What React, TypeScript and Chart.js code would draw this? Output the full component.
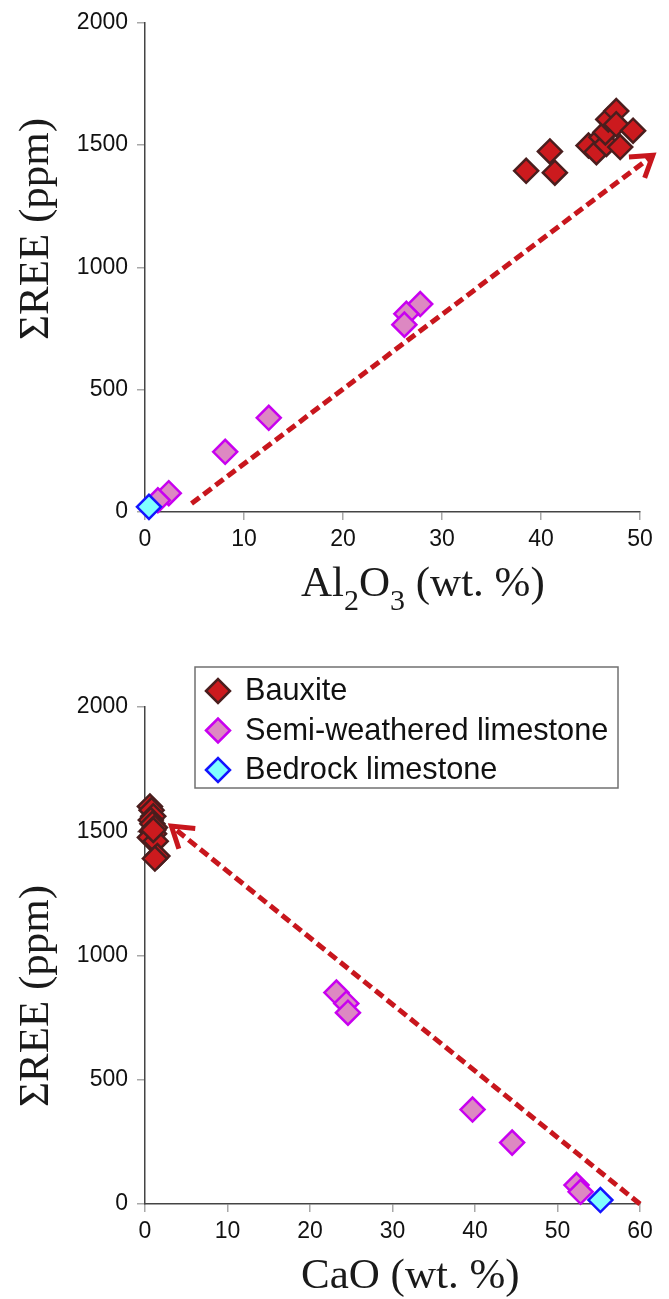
import React, { useEffect, useRef } from 'react';
import { Chart, registerables } from 'chart.js';

Chart.register(...registerables);

// ---------- data ----------
const seriesLabels = ['Bauxite', 'Semi-weathered limestone', 'Bedrock limestone'];

// Top panel: Al2O3 (wt.%) vs ΣREE (ppm)
const bauxiteAl2O3 = [38.5, 40.9, 41.4, 44.8, 45.6, 46.1, 46.6, 46.5, 46.8, 47.6, 47.6, 48.0, 49.3];
const bauxiteREEtop = [1395, 1474, 1387, 1498, 1471, 1532, 1505, 1552, 1605, 1639, 1585, 1492, 1559];
const semiAl2O3 = [27.8, 26.4, 26.2, 12.5, 8.1, 2.4, 1.3];
const semiREEtop = [850, 810, 766, 385, 246, 77, 48];
const bedrockAl2O3 = [0.4];
const bedrockREEtop = [21];
const arrowTopX = [4.7, 51.3];
const arrowTopY = [35, 1458];

// Bottom panel: CaO (wt.%) vs ΣREE (ppm)
const bauxiteCaO = [0.6, 0.8, 1.0, 0.7, 0.9, 1.2, 0.8, 1.1, 0.6, 1.3, 1.5, 1.2, 1.0];
const bauxiteREEbottom = [1600, 1585, 1560, 1545, 1530, 1515, 1500, 1490, 1475, 1460, 1400, 1390, 1505];
const semiCaO = [23.2, 24.4, 24.6, 39.7, 44.5, 52.3, 52.8];
const semiREEbottom = [851, 807, 770, 380, 247, 76, 49];
const bedrockCaO = [55.2];
const bedrockREEbottom = [16];
const arrowBottomX = [60, 3.2];
const arrowBottomY = [0, 1521];

// ticks
const xTicksTop = [0, 10, 20, 30, 40, 50];
const xTicksBottom = [0, 10, 20, 30, 40, 50, 60];
const yTicks = [0, 500, 1000, 1500, 2000];

// titles
const yTitle = 'ΣREE (ppm)';
const xTitleTop = [
  { t: 'Al', sub: false },
  { t: '2', sub: true },
  { t: 'O', sub: false },
  { t: '3', sub: true },
  { t: ' (wt. %)', sub: false },
];
const xTitleBottom = [{ t: 'CaO (wt. %)', sub: false }];

// ---------- styles ----------
const SANS = "'Liberation Sans', Arial, Helvetica, sans-serif";
const SERIF = "'Liberation Serif', 'Times New Roman', Times, serif";
const RED = '#c8161d';

const styles = [
  { bg: '#cc1a1e', border: '#4a1e1e' },
  { bg: '#dd88c2', border: '#c800f0' },
  { bg: '#80ffff', border: '#1414ff' },
];

const zip = (xs: number[], ys: number[]) => xs.map((x, i) => ({ x, y: ys[i] }));

function makeDatasets(bx: number[], by: number[], sx: number[], sy: number[], rx: number[], ry: number[], ax: number[], ay: number[]) {
  const pts = (i: number, data: any[]) => ({
    label: seriesLabels[i],
    data,
    backgroundColor: styles[i].bg,
    borderColor: styles[i].border,
    borderWidth: 2.5,
    pointStyle: 'rectRot',
    pointRadius: 12,
    pointHoverRadius: 12,
    clip: false,
    order: 3 - i,
  });
  return [
    pts(0, zip(bx, by)),
    pts(1, zip(sx, sy)),
    pts(2, zip(rx, ry)),
    {
      label: '',
      data: zip(ax, ay),
      showLine: true,
      borderColor: RED,
      backgroundColor: RED,
      borderWidth: 5,
      borderDash: [10, 5],
      pointRadius: 0,
      pointHoverRadius: 0,
      tension: 0,
      clip: false,
      order: 0,
      arrowHead: true,
    },
  ];
}

// ---------- plugins ----------
const arrowPlugin = {
  id: 'arrowHead',
  afterDatasetsDraw(chart: any) {
    const ctx = chart.ctx;
    chart.data.datasets.forEach((ds: any, i: number) => {
      if (!ds.arrowHead) return;
      const meta = chart.getDatasetMeta(i);
      const n = meta.data.length;
      if (n < 2) return;
      const tip = meta.data[n - 1];
      const prev = meta.data[n - 2];
      const ang = Math.atan2(prev.y - tip.y, prev.x - tip.x);
      const len = 24;
      const half = (33 * Math.PI) / 180;
      ctx.save();
      ctx.strokeStyle = ds.borderColor;
      ctx.lineWidth = 5;
      ctx.lineJoin = 'miter';
      ctx.lineCap = 'butt';
      ctx.beginPath();
      ctx.moveTo(tip.x + Math.cos(ang + half) * len, tip.y + Math.sin(ang + half) * len);
      ctx.lineTo(tip.x, tip.y);
      ctx.lineTo(tip.x + Math.cos(ang - half) * len, tip.y + Math.sin(ang - half) * len);
      ctx.stroke();
      ctx.restore();
    });
  },
};

const titlesPlugin = {
  id: 'axisTitles',
  afterDraw(chart: any, _args: any, opts: any) {
    const ctx = chart.ctx;
    const ca = chart.chartArea;
    ctx.save();
    ctx.fillStyle = '#1a1a1a';
    // y title (rotated)
    ctx.save();
    ctx.translate(opts.yBaselineX, opts.yStart);
    ctx.rotate(-Math.PI / 2);
    ctx.font = `43px ${SERIF}`;
    ctx.textAlign = 'left';
    ctx.textBaseline = 'alphabetic';
    ctx.fillText(opts.yText, 0, 0);
    ctx.restore();
    // x title (with subscripts)
    let x = opts.xLeft;
    const base = ca.bottom + 84;
    ctx.textAlign = 'left';
    ctx.textBaseline = 'alphabetic';
    for (const seg of opts.xSegments) {
      ctx.font = seg.sub ? `30px ${SERIF}` : `43px ${SERIF}`;
      ctx.fillText(seg.t, x, seg.sub ? base + 14 : base);
      x += ctx.measureText(seg.t).width;
    }
    ctx.restore();
  },
};

const legendPlugin = {
  id: 'boxLegend',
  afterDraw(chart: any, _args: any, opts: any) {
    if (!opts || !opts.show) return;
    const ctx = chart.ctx;
    const ca = chart.chartArea;
    const left = ca.left + 50;
    const top = ca.top - 40;
    const w = 423;
    const h = 121;
    ctx.save();
    ctx.fillStyle = '#ffffff';
    ctx.fillRect(left, top, w, h);
    ctx.strokeStyle = '#707070';
    ctx.lineWidth = 1.5;
    ctx.strokeRect(left, top, w, h);
    const items = chart.data.datasets.filter((d: any) => d.label);
    items.forEach((d: any, i: number) => {
      const cy = top + 24 + i * 39.5;
      const cx = left + 23;
      const r = 12;
      ctx.beginPath();
      ctx.moveTo(cx - r, cy);
      ctx.lineTo(cx, cy - r);
      ctx.lineTo(cx + r, cy);
      ctx.lineTo(cx, cy + r);
      ctx.closePath();
      ctx.fillStyle = d.backgroundColor;
      ctx.fill();
      ctx.lineWidth = d.borderWidth;
      ctx.strokeStyle = d.borderColor;
      ctx.stroke();
      ctx.fillStyle = '#111';
      ctx.font = `30.7px ${SANS}`;
      ctx.textAlign = 'left';
      ctx.textBaseline = 'middle';
      ctx.fillText(d.label, left + 50, cy + 1);
    });
    ctx.restore();
  },
};

function makeScales(xMax: number, xTicks: number[], xAxisHeight: number) {
  const tickFont = { family: SANS, size: 23 };
  const plain = (v: any) => String(v);
  return {
    x: {
      type: 'linear',
      min: 0,
      max: xMax,
      afterBuildTicks: (s: any) => {
        s.ticks = xTicks.map((v) => ({ value: v }));
      },
      afterFit: (s: any) => {
        s.height = xAxisHeight;
      },
      ticks: { font: tickFont, color: '#111', padding: 6, maxRotation: 0, autoSkip: false, callback: plain },
      grid: { drawOnChartArea: false, drawTicks: true, tickLength: 8, color: '#a8a8a8', lineWidth: 1.5 },
      border: { display: true, color: '#444', width: 1.5 },
      title: { display: false },
    },
    y: {
      type: 'linear',
      min: 0,
      max: 2000,
      afterBuildTicks: (s: any) => {
        s.ticks = yTicks.map((v) => ({ value: v }));
      },
      afterFit: (s: any) => {
        s.width = 145;
      },
      ticks: { font: tickFont, color: '#111', padding: 9, autoSkip: false, callback: plain },
      grid: { drawOnChartArea: false, drawTicks: true, tickLength: 8, color: '#a8a8a8', lineWidth: 1.5 },
      border: { display: true, color: '#444', width: 1.5 },
      title: { display: false },
    },
  };
}

function ScatterPanel(props: {
  height: number;
  padTop: number;
  xAxisHeight: number;
  xMax: number;
  xTicks: number[];
  datasets: any[];
  yStart: number;
  xSegments: any[];
  legend: boolean;
}) {
  const ref = useRef<HTMLCanvasElement | null>(null);
  useEffect(() => {
    if (!ref.current) return;
    const chart = new Chart(ref.current, {
      type: 'scatter',
      data: { datasets: props.datasets },
      options: {
        animation: false,
        responsive: false,
        devicePixelRatio: 1,
        events: [],
        layout: { padding: { top: props.padTop, right: 29, left: 0, bottom: 0 } },
        scales: makeScales(props.xMax, props.xTicks, props.xAxisHeight) as any,
        plugins: {
          legend: { display: false },
          tooltip: { enabled: false },
          axisTitles: { yText: yTitle, yBaselineX: 47.5, yStart: props.yStart, xLeft: 301, xSegments: props.xSegments },
          boxLegend: { show: props.legend },
        } as any,
      },
      plugins: [arrowPlugin, titlesPlugin, legendPlugin],
    } as any);
    return () => chart.destroy();
  }, []);
  return <canvas ref={ref} width={669} height={props.height} style={{ display: 'block' }} />;
}

export default function App() {
  const topSets = makeDatasets(bauxiteAl2O3, bauxiteREEtop, semiAl2O3, semiREEtop, bedrockAl2O3, bedrockREEtop, arrowTopX, arrowTopY);
  const bottomSets = makeDatasets(bauxiteCaO, bauxiteREEbottom, semiCaO, semiREEbottom, bedrockCaO, bedrockREEbottom, arrowBottomX, arrowBottomY);
  return (
    <div style={{ width: 669, background: '#fff' }}>
      <style>{'body{margin:0;background:#fff;}'}</style>
      <ScatterPanel
        height={620}
        padTop={14}
        xAxisHeight={108}
        xMax={50}
        xTicks={xTicksTop}
        datasets={topSets}
        yStart={340}
        xSegments={xTitleTop}
        legend={false}
      />
      <ScatterPanel
        height={679}
        padTop={87}
        xAxisHeight={95}
        xMax={60}
        xTicks={xTicksBottom}
        datasets={bottomSets}
        yStart={487}
        xSegments={xTitleBottom}
        legend={true}
      />
    </div>
  );
}
